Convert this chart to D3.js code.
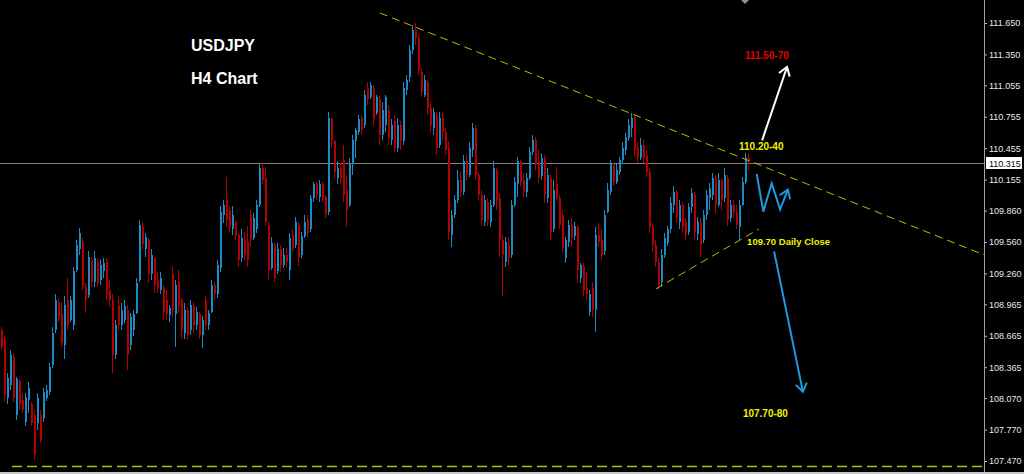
<!DOCTYPE html>
<html>
<head>
<meta charset="utf-8">
<script src="https://cdn.jsdelivr.net/npm/d3@7"></script>
<style>
html, body { margin: 0; padding: 0; background: #000; overflow: hidden; }
svg { display: block; font-family: "Liberation Sans", Arial, sans-serif; }
</style>
</head>
<body>
<svg width="1024" height="474"></svg>
<script>
// H4 candles, oldest first
var opens = [
  108.72,108.63,108.07,108.20,108.46,107.91,108.23,108.05,107.84,108.05,
  108.01,107.91,107.83,107.91,107.88,108.07,108.13,108.39,108.72,108.99,
  108.87,108.58,109.01,108.82,108.77,109.29,109.49,109.56,109.13,109.05,
  109.39,109.18,109.37,109.20,109.28,109.37,109.10,109.01,108.48,108.96,
  108.77,108.82,108.91,108.58,108.72,108.88,109.20,109.70,109.49,109.58,
  109.25,109.41,109.20,109.10,109.12,109.01,108.86,109.25,108.87,109.18,
  109.01,108.69,108.91,108.72,108.96,108.77,108.87,108.67,109.01,108.77,
  108.89,109.15,109.06,109.31,109.82,109.96,109.87,109.68,109.75,109.63,
  109.41,109.58,109.56,109.82,109.60,109.68,109.91,110.27,110.17,109.72,
  109.31,109.53,109.28,109.49,109.34,109.44,109.29,109.63,109.53,109.72,
  109.44,109.62,109.77,109.68,109.98,110.11,109.99,110.11,109.99,109.85,
  110.73,110.52,110.17,110.27,110.34,110.06,109.91,110.30,110.52,110.61,
  110.74,110.68,111.03,110.94,111.03,110.79,110.92,110.58,110.68,110.82,
  110.53,110.71,110.46,110.68,110.52,111.01,111.13,111.39,111.58,111.51,
  111.18,110.96,111.09,110.84,110.65,110.77,110.49,110.74,110.61,110.46,
  109.63,109.82,109.96,110.15,110.04,110.33,110.20,110.44,110.65,110.20,
  110.01,109.75,109.94,109.75,109.91,110.25,109.98,109.58,109.37,109.53,
  109.44,109.91,110.11,110.32,110.15,110.04,110.17,110.42,110.53,110.33,
  110.19,110.36,109.98,110.17,109.68,110.11,109.98,109.82,109.41,109.56,
  109.72,109.62,109.70,109.22,109.33,109.12,108.89,109.12,108.91,109.63,
  109.58,109.47,109.85,110.04,110.30,110.13,110.23,110.34,110.44,110.55,
  110.65,110.74,110.46,110.36,110.49,110.39,110.23,109.70,109.53,109.37,
  109.18,109.44,109.55,109.68,109.91,110.04,109.75,109.91,109.75,109.66,
  109.89,110.01,109.64,109.75,109.58,109.82,109.98,110.01,110.17,109.91,
  110.15,109.98,110.17,109.79,109.91,109.85,109.70,109.91,110.13,110.36
];
var highs = [
  108.75,108.66,108.31,108.53,108.50,108.27,108.25,108.12,108.12,108.22,
  108.03,107.96,108.12,107.96,108.17,108.20,108.41,108.75,109.06,109.03,
  108.98,109.04,109.22,109.04,109.32,109.58,109.69,109.60,109.17,109.47,
  109.42,109.47,109.41,109.39,109.41,109.41,109.20,109.06,108.82,109.04,
  108.98,109.01,108.96,108.88,108.91,109.22,109.77,109.75,109.65,109.60,
  109.49,109.42,109.27,109.27,109.15,109.10,108.96,109.32,109.20,109.29,
  109.03,108.98,108.94,109.01,108.99,108.94,108.89,108.85,109.04,108.91,
  109.20,109.18,109.39,109.90,109.96,110.18,109.90,109.90,109.77,109.65,
  109.68,109.66,109.71,109.87,109.84,109.96,110.31,110.31,110.28,109.75,
  109.61,109.55,109.55,109.53,109.50,109.50,109.65,109.68,109.80,109.75,
  109.66,109.82,109.82,110.01,110.13,110.13,110.15,110.13,110.01,110.80,
  110.74,110.53,110.33,110.31,110.49,110.20,110.36,110.58,110.65,110.77,
  110.77,111.01,111.09,111.09,111.06,110.96,110.95,110.90,110.96,110.87,
  110.73,110.77,110.74,110.71,111.09,111.15,111.44,111.63,111.65,111.54,
  111.22,111.15,111.11,110.90,110.84,110.80,110.80,110.80,110.65,110.52,
  109.87,110.01,110.25,110.23,110.39,110.39,110.51,110.70,110.68,110.23,
  110.06,110.01,109.98,109.96,110.33,110.27,110.03,109.63,109.61,109.61,
  109.96,110.18,110.37,110.34,110.22,110.22,110.47,110.58,110.56,110.44,
  110.41,110.39,110.27,110.20,110.15,110.28,110.01,109.87,109.61,109.77,
  109.79,109.75,109.72,109.36,109.36,109.27,109.10,109.18,109.70,109.74,
  109.68,109.87,110.12,110.34,110.31,110.30,110.37,110.51,110.60,110.73,
  110.79,110.77,110.51,110.55,110.53,110.44,110.27,109.74,109.58,109.41,
  109.49,109.65,109.71,109.99,110.09,110.06,109.96,109.94,109.79,109.93,
  110.08,110.04,109.80,109.79,109.87,110.06,110.12,110.22,110.20,110.22,
  110.17,110.27,110.20,109.96,109.96,109.91,109.96,110.18,110.41,110.41
];
var lows = [
  108.53,108.03,108.01,108.15,108.03,107.86,107.96,107.93,107.80,107.93,
  107.80,107.48,107.77,107.64,107.84,108.04,108.10,108.36,108.69,108.80,
  108.56,108.44,108.72,108.80,108.72,109.27,109.44,109.10,108.88,109.03,
  109.13,109.13,109.13,109.15,109.22,109.01,108.94,108.31,108.44,108.72,
  108.72,108.79,108.34,108.53,108.66,108.87,109.18,109.49,109.42,109.17,
  109.20,109.07,109.07,109.06,108.82,108.82,108.80,108.84,108.56,108.88,
  108.63,108.63,108.62,108.67,108.69,108.72,108.63,108.55,108.72,108.72,
  108.88,109.01,109.03,109.27,109.74,109.71,109.65,109.63,109.58,109.32,
  109.37,109.39,109.32,109.51,109.58,109.65,109.89,110.11,109.71,109.20,
  109.29,109.18,109.25,109.27,109.31,109.32,109.20,109.46,109.50,109.33,
  109.41,109.60,109.61,109.66,109.94,109.96,109.94,109.94,109.79,109.82,
  110.46,110.17,110.11,110.11,109.94,109.70,109.89,110.20,110.36,110.58,
  110.58,110.65,110.87,110.92,110.68,110.77,110.49,110.53,110.61,110.49,
  110.49,110.42,110.42,110.44,110.49,110.96,111.09,111.35,111.44,111.15,
  110.94,110.94,110.77,110.61,110.58,110.39,110.46,110.53,110.39,109.58,
  109.51,109.79,109.93,109.99,110.01,110.15,110.18,110.37,110.15,109.96,
  109.71,109.71,109.71,109.70,109.89,109.87,109.42,109.04,109.32,109.34,
  109.41,109.89,109.99,110.09,109.99,109.99,110.15,110.39,110.25,110.12,
  110.15,109.93,109.93,109.58,109.66,109.96,109.68,109.46,109.36,109.51,
  109.51,109.58,109.17,109.17,109.04,109.01,108.85,108.84,108.70,109.51,
  109.39,109.44,109.84,110.01,110.09,110.11,110.20,110.30,110.39,110.52,
  110.56,110.37,110.31,110.34,110.31,110.18,109.65,109.46,109.32,109.10,
  109.13,109.41,109.52,109.65,109.84,109.74,109.68,109.65,109.58,109.63,
  109.84,109.58,109.58,109.42,109.55,109.77,109.87,109.96,109.84,109.89,
  109.87,109.94,109.71,109.75,109.79,109.68,109.58,109.90,110.11,110.25
];
var closes = [
  108.56,108.10,108.26,108.48,108.07,108.25,108.01,107.96,108.08,108.17,
  107.83,107.53,108.07,107.67,108.13,108.15,108.37,108.69,109.01,108.84,
  108.60,108.96,108.77,109.01,109.28,109.53,109.65,109.15,109.01,109.42,
  109.18,109.41,109.17,109.34,109.36,109.05,109.01,108.48,108.77,108.77,
  108.91,108.95,108.48,108.84,108.87,109.17,109.72,109.54,109.61,109.25,
  109.44,109.15,109.12,109.22,108.89,108.87,108.93,108.91,109.15,108.96,
  108.72,108.91,108.67,108.96,108.77,108.89,108.67,108.82,108.77,108.88,
  109.15,109.06,109.34,109.85,109.91,109.77,109.70,109.82,109.62,109.39,
  109.60,109.44,109.39,109.58,109.79,109.91,110.27,110.15,109.75,109.29,
  109.55,109.22,109.49,109.34,109.44,109.37,109.60,109.49,109.75,109.41,
  109.62,109.75,109.65,109.98,110.11,110.01,110.11,109.98,109.83,110.74,
  110.53,110.23,110.27,110.17,110.01,109.87,110.30,110.53,110.63,110.73,
  110.63,110.96,110.92,111.06,110.73,110.94,110.58,110.82,110.94,110.55,
  110.68,110.46,110.68,110.52,111.03,111.11,111.39,111.58,111.51,111.20,
  110.99,111.11,110.84,110.68,110.80,110.46,110.74,110.61,110.44,109.66,
  109.82,109.96,110.15,110.04,110.33,110.20,110.46,110.65,110.20,110.01,
  109.77,109.96,109.77,109.91,110.27,109.96,109.58,109.44,109.56,109.41,
  109.91,110.13,110.33,110.13,110.04,110.17,110.42,110.53,110.30,110.17,
  110.36,110.01,110.20,109.66,110.06,109.98,109.72,109.50,109.58,109.72,
  109.60,109.71,109.29,109.34,109.10,109.06,109.06,108.91,109.63,109.56,
  109.44,109.82,110.06,110.30,110.12,110.25,110.34,110.46,110.56,110.68,
  110.74,110.44,110.36,110.49,110.36,110.23,109.70,109.53,109.37,109.15,
  109.44,109.60,109.68,109.93,110.04,109.79,109.91,109.70,109.63,109.89,
  110.03,109.66,109.75,109.53,109.82,110.01,110.08,110.17,109.91,110.15,
  109.96,110.20,109.77,109.91,109.85,109.72,109.91,110.13,110.36,110.32
];

var priceTicks = [111.650, 111.350, 111.055, 110.755, 110.455, 110.155, 109.860,
  109.560, 109.260, 108.965, 108.665, 108.365, 108.070, 107.770, 107.470];
var lastPrice = 110.315;
var titleLines = ["USDJPY", "H4 Chart"];

// drawn objects, anchored as [bar index, price]
var resistanceLine = [[126.3, 111.746], [327.7, 109.437]];
var supportLine = [[218.3, 109.113], [252.7, 109.685]];
var floorLevel = 107.42;
var bullArrow = [[253.7, 110.53], [262.0, 111.23]];
var bearArrow = [[257.7, 109.47], [267.3, 108.13]];
var zigzag = [[251.9, 110.21], [254.1, 109.85], [256.9, 110.12], [259.7, 109.87], [262.3, 110.06]];
var noteTexts = ["111.50-70", "110.20-40", "109.70 Daily Close", "107.70-80"];
var noteBars = [248, 246, 248.7, 247.3];
var notePrices = [111.31, 110.44, 109.53, 107.89];

var svg = d3.select("svg"),
  width = +svg.attr("width"),
  height = +svg.attr("height");

var plotRight = 984, plotBottom = 472;

var x = d3.scaleLinear()
  .domain([0, opens.length - 1])
  .range([1, 748]);

var y = d3.scaleLinear()
  .domain([107.47, 111.65])
  .range([461, 23]);

var upColor = "#1a8bc4", downColor = "#b40000";
var dashYellow = "#bcbc00";

svg.append("rect")
  .attr("width", width)
  .attr("height", height)
  .attr("fill", "#000");

// last price line
var lastY = Math.round(y(lastPrice)) + 0.5;
svg.append("line")
  .attr("x1", 0).attr("x2", plotRight)
  .attr("y1", lastY).attr("y2", lastY)
  .attr("stroke", "#808080");

// candles
var bars = svg.append("g").attr("shape-rendering", "crispEdges");
var idx = d3.range(opens.length);

bars.selectAll("line")
  .data(idx)
  .enter().append("line")
  .attr("x1", function(i) { return Math.round(x(i)) + 0.5; })
  .attr("x2", function(i) { return Math.round(x(i)) + 0.5; })
  .attr("y1", function(i) { return y(highs[i]); })
  .attr("y2", function(i) { return y(lows[i]); })
  .attr("stroke", function(i) { return closes[i] >= opens[i] ? upColor : downColor; });

bars.selectAll("rect")
  .data(idx)
  .enter().append("rect")
  .attr("x", function(i) { return Math.round(x(i)); })
  .attr("width", 2)
  .attr("y", function(i) { return y(Math.max(opens[i], closes[i])); })
  .attr("height", function(i) { return Math.max(1, Math.abs(y(opens[i]) - y(closes[i]))); })
  .attr("fill", function(i) { return closes[i] >= opens[i] ? upColor : downColor; });

// trend lines
var line = d3.line()
  .x(function(d) { return x(d[0]); })
  .y(function(d) { return y(d[1]); });

svg.append("path")
  .attr("d", line(resistanceLine))
  .attr("fill", "none")
  .attr("stroke", dashYellow)
  .attr("stroke-dasharray", "8,5");

svg.append("path")
  .attr("d", line(supportLine))
  .attr("fill", "none")
  .attr("stroke", dashYellow)
  .attr("stroke-dasharray", "8,5");

svg.append("line")
  .attr("x1", 12).attr("x2", plotRight)
  .attr("y1", Math.round(y(floorLevel)) + 0.5)
  .attr("y2", Math.round(y(floorLevel)) + 0.5)
  .attr("stroke", dashYellow)
  .attr("stroke-width", 1.5)
  .attr("stroke-dasharray", "10,5");

// arrows
function head(pts, len, ang) {
  var a = pts[pts.length - 1], b = pts[pts.length - 2];
  var tx = x(a[0]), ty = y(a[1]);
  var t = Math.atan2(y(b[1]) - ty, x(b[0]) - tx);
  return "M" + (tx + len * Math.cos(t + ang)) + "," + (ty + len * Math.sin(t + ang)) +
    "L" + tx + "," + ty +
    "L" + (tx + len * Math.cos(t - ang)) + "," + (ty + len * Math.sin(t - ang));
}

function arrow(pts, color) {
  var g = svg.append("g")
    .attr("fill", "none")
    .attr("stroke", color)
    .attr("stroke-width", 2)
    .attr("stroke-linejoin", "miter");
  g.append("path").attr("d", line(pts));
  g.append("path").attr("d", head(pts, 10, 0.6));
}

arrow(bullArrow, "#ffffff");
arrow(bearArrow, "#1e9ae0");
arrow(zigzag, "#1e9ae0");

// notes
var noteColors = ["#e00000", "#f0f000", "#f0f000", "#f0f000"];
svg.append("g")
  .selectAll("text")
  .data(noteTexts)
  .enter().append("text")
  .attr("x", function(d, i) { return x(noteBars[i]); })
  .attr("y", function(d, i) { return y(notePrices[i]); })
  .attr("fill", function(d, i) { return noteColors[i]; })
  .attr("font-weight", "bold")
  .attr("font-size", function(d, i) { return i == 2 ? 9.5 : 10; })
  .text(function(d) { return d; });

// title
svg.append("g")
  .selectAll("text")
  .data(titleLines)
  .enter().append("text")
  .attr("x", 191)
  .attr("y", function(d, i) { return 51 + i * 33; })
  .attr("fill", "#fff")
  .attr("font-weight", "bold")
  .attr("font-size", 16)
  .text(function(d) { return d; });

// price axis
var axis = svg.append("g")
  .attr("transform", "translate(" + plotRight + ",0)")
  .call(d3.axisRight(y)
    .tickValues(priceTicks)
    .tickFormat(d3.format(".3f"))
    .tickSize(3)
    .tickPadding(2));
axis.select(".domain").remove();
axis.selectAll("line").attr("stroke", "#c0c0c0");
axis.selectAll("text")
  .attr("fill", "#e8e8e8")
  .attr("font-size", 9)
  .attr("font-family", "Liberation Sans, Arial, sans-serif");

svg.append("line")
  .attr("x1", plotRight + 0.5).attr("x2", plotRight + 0.5)
  .attr("y1", 0).attr("y2", plotBottom)
  .attr("stroke", "#a0a0a0");

// last price tag
svg.append("rect")
  .attr("x", plotRight + 2)
  .attr("y", lastY - 6.5)
  .attr("width", 36)
  .attr("height", 12)
  .attr("fill", "#fff");
svg.append("text")
  .attr("x", plotRight + 5)
  .attr("y", lastY + 3.5)
  .attr("fill", "#000")
  .attr("font-size", 9)
  .text(d3.format(".3f")(lastPrice));

// shift marker and bottom edge
var sx = Math.round(x(opens.length - 2));
svg.append("path")
  .attr("d", "M" + (sx - 4) + ",0L" + (sx + 4) + ",0L" + sx + ",4Z")
  .attr("fill", "#909090");

svg.append("rect")
  .attr("x", 0).attr("y", plotBottom)
  .attr("width", width).attr("height", height - plotBottom)
  .attr("fill", "#c8c8c8");
</script>
</body>
</html>
